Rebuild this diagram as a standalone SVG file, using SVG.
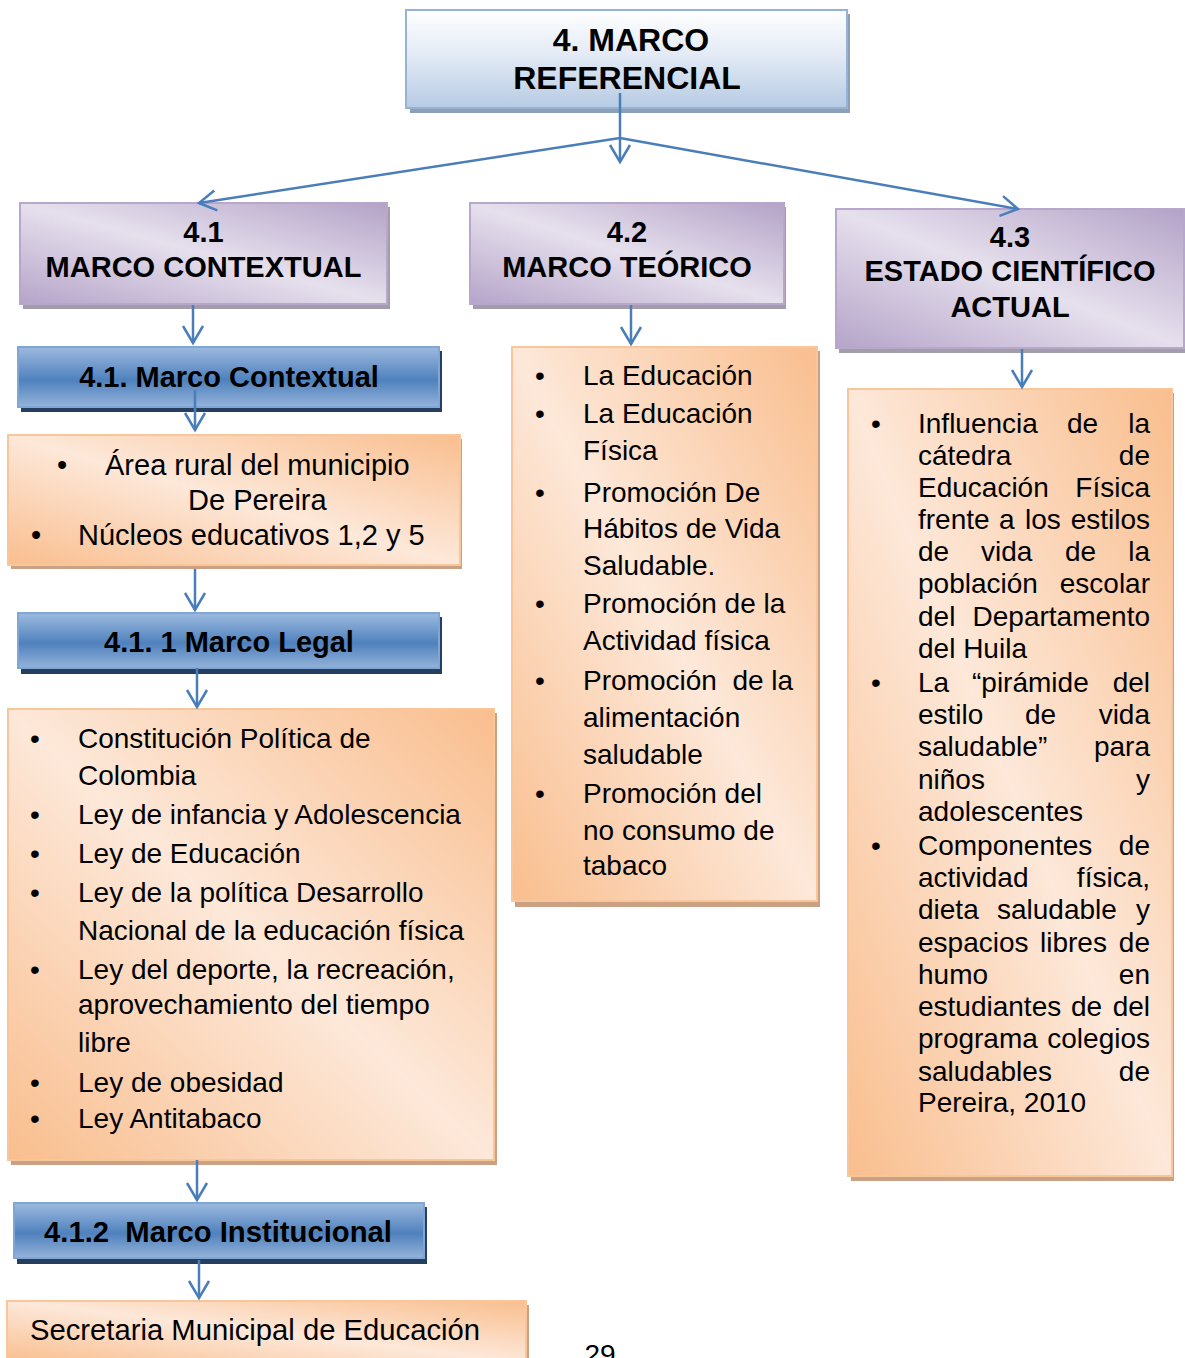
<svg xmlns="http://www.w3.org/2000/svg" width="1185" height="1358" viewBox="0 0 1185 1358">
<defs>
<linearGradient id="gTop" x1="0" y1="0" x2="0" y2="1">
<stop offset="0" stop-color="#ffffff"/>
<stop offset="0.45" stop-color="#e3ebf5"/>
<stop offset="1" stop-color="#b7cbe4"/>
</linearGradient>
<linearGradient id="gPur" x1="0" y1="1" x2="1" y2="0">
<stop offset="0" stop-color="#b5a4c9"/>
<stop offset="0.5" stop-color="#e6e0ed"/>
<stop offset="1" stop-color="#b3a2c7"/>
</linearGradient>
<linearGradient id="gOra" x1="0" y1="1" x2="1" y2="0">
<stop offset="0" stop-color="#f9be8e"/>
<stop offset="0.5" stop-color="#fde8d9"/>
<stop offset="1" stop-color="#f9be8e"/>
</linearGradient>
<linearGradient id="gBlue" x1="0" y1="0" x2="0" y2="1">
<stop offset="0" stop-color="#9dbadf"/>
<stop offset="0.55" stop-color="#4f81bd"/>
<stop offset="1" stop-color="#94b3d9"/>
</linearGradient>
<marker id="arr" markerUnits="userSpaceOnUse" markerWidth="30" markerHeight="30" viewBox="-22 -15 30 30" refX="0" refY="0" orient="auto">
<path d="M -17 -10 L 0 0 L -17 10" fill="none" stroke="#4a7ebb" stroke-width="2.5"/>
</marker>
<style>
.top{fill:url(#gTop);stroke:#95b3d7;stroke-width:2}
.pur{fill:url(#gPur);stroke:#b7a8cb;stroke-width:2}
.ora{fill:url(#gOra);stroke:#f9c69b;stroke-width:2}
.blu{fill:url(#gBlue);stroke:#7fa6d6;stroke-width:2}
.shTop{fill:#8d9fb5}
.shPur{fill:#a29ea9}
.shOra{fill:#caa283}
.shBlu{fill:#263f5e}
.hb{font-family:"Liberation Sans",Arial,sans-serif;font-weight:bold;fill:#000;text-anchor:middle}
.t{font-family:"Liberation Sans",Arial,sans-serif;font-size:28px;fill:#000}
.bul{font-family:"Liberation Sans",Arial,sans-serif;fill:#000;text-anchor:middle}
.end{text-anchor:end}
.con{fill:none;stroke:#4a7ebb;stroke-width:2.5}
</style>
</defs>

<g id="n_marco_referencial">
<rect class="shTop" x="410" y="14" width="440" height="99"/>
<rect class="top" x="406" y="10" width="441" height="98"/>
<text class="hb" font-size="32" x="631" y="51">4. MARCO</text>
<text class="hb" font-size="32" x="627" y="89">REFERENCIAL</text>
</g>

<g id="n_41">
<rect class="shPur" x="23" y="207" width="367" height="102"/>
<rect class="pur" x="20" y="203" width="367" height="101"/>
<text class="hb" font-size="29" x="203.5" y="242">4.1</text>
<text class="hb" font-size="29" x="203.5" y="277">MARCO CONTEXTUAL</text>
</g>

<g id="n_42">
<rect class="shPur" x="473" y="207" width="313" height="102"/>
<rect class="pur" x="470" y="203" width="314" height="101"/>
<text class="hb" font-size="29" x="627" y="242">4.2</text>
<text class="hb" font-size="29" x="627" y="277">MARCO TEÓRICO</text>
</g>

<g id="n_43">
<rect class="shPur" x="839" y="213" width="346" height="140"/>
<rect class="pur" x="836" y="209" width="348" height="139"/>
<text class="hb" font-size="29" x="1010" y="247">4.3</text>
<text class="hb" font-size="29" x="1010" y="281">ESTADO CIENTÍFICO</text>
<text class="hb" font-size="29" x="1010" y="317">ACTUAL</text>
</g>

<g id="n_marco_contextual">
<rect class="shBlu" x="21" y="351" width="421" height="61"/>
<rect class="blu" x="18" y="347" width="421" height="60"/>
<text class="hb" font-size="29" x="229" y="387">4.1. Marco Contextual</text>
</g>

<g id="n_area_rural">
<rect class="shOra" x="11" y="439" width="451" height="130"/>
<rect class="ora" x="8" y="435" width="452" height="130"/>
<text class="bul" font-size="29" x="62" y="475">•</text>
<text class="t" x="105" y="475" style="font-size:29px">Área rural del municipio</text>
<text class="t" x="188" y="510" style="font-size:29px">De Pereira</text>
<text class="bul" font-size="29" x="36" y="545">•</text>
<text class="t" x="78" y="545" style="font-size:29px">Núcleos educativos 1,2 y 5</text>
</g>

<g id="n_marco_legal">
<rect class="shBlu" x="21" y="617" width="421" height="57"/>
<rect class="blu" x="18" y="613" width="421" height="55"/>
<text class="hb" font-size="29" x="229" y="652">4.1. 1 Marco Legal</text>
</g>

<g id="n_lista_legal">
<rect class="shOra" x="11" y="713" width="486" height="452"/>
<rect class="ora" x="8" y="709" width="486" height="451"/>
<g class="bul" font-size="28">
<text x="35" y="748">•</text>
<text x="35" y="824">•</text>
<text x="35" y="863">•</text>
<text x="35" y="902">•</text>
<text x="35" y="979">•</text>
<text x="35" y="1092">•</text>
<text x="35" y="1128">•</text>
</g>
<text class="t" x="78" y="748">Constitución Política de</text>
<text class="t" x="78" y="785">Colombia</text>
<text class="t" x="78" y="824">Ley de infancia y Adolescencia</text>
<text class="t" x="78" y="863">Ley de Educación</text>
<text class="t" x="78" y="902">Ley de la política Desarrollo</text>
<text class="t" x="78" y="940">Nacional de la educación física</text>
<text class="t" x="78" y="979">Ley del deporte, la recreación,</text>
<text class="t" x="78" y="1014">aprovechamiento del tiempo</text>
<text class="t" x="78" y="1052">libre</text>
<text class="t" x="78" y="1092">Ley de obesidad</text>
<text class="t" x="78" y="1128">Ley Antitabaco</text>
</g>

<g id="n_marco_institucional">
<rect class="shBlu" x="17" y="1207" width="410" height="57"/>
<rect class="blu" x="14" y="1203" width="410" height="55"/>
<text class="hb" font-size="29" x="44" y="1242" style="text-anchor:start;font-family:'Liberation Sans Narrow','Liberation Sans',Arial,sans-serif" textLength="348" lengthAdjust="spacingAndGlyphs" xml:space="preserve">4.1.2  Marco Institucional</text>
</g>

<g id="n_secretaria">
<rect class="shOra" x="10" y="1305" width="519" height="60"/>
<rect class="ora" x="7" y="1301" width="519" height="62"/>
<text class="t" x="30" y="1340" style="font-size:29px;font-family:'Liberation Sans Narrow','Liberation Sans',Arial,sans-serif" textLength="450" lengthAdjust="spacingAndGlyphs">Secretaria Municipal de Educación</text>
</g>

<g id="n_lista_teorico">
<rect class="shOra" x="515" y="351" width="305" height="556"/>
<rect class="ora" x="512" y="347" width="305" height="554"/>
<g class="bul" font-size="28">
<text x="540" y="385">•</text>
<text x="540" y="423">•</text>
<text x="540" y="502">•</text>
<text x="540" y="613">•</text>
<text x="540" y="690">•</text>
<text x="540" y="803">•</text>
</g>
<text class="t" x="583" y="385">La Educación</text>
<text class="t" x="583" y="423">La Educación</text>
<text class="t" x="583" y="460">Física</text>
<text class="t" x="583" y="502">Promoción De</text>
<text class="t" x="583" y="538">Hábitos de Vida</text>
<text class="t" x="583" y="575">Saludable.</text>
<text class="t" x="583" y="613">Promoción de la</text>
<text class="t" x="583" y="650">Actividad física</text>
<text class="t" x="583" y="690" xml:space="preserve">Promoción  de la</text>
<text class="t" x="583" y="727">alimentación</text>
<text class="t" x="583" y="764">saludable</text>
<text class="t" x="583" y="803">Promoción del</text>
<text class="t" x="583" y="840">no consumo de</text>
<text class="t" x="583" y="875">tabaco</text>
</g>

<g id="n_lista_estado">
<rect class="shOra" x="851" y="393" width="323" height="788"/>
<rect class="ora" x="848" y="389" width="324" height="787"/>
<g class="bul" font-size="28">
<text x="876" y="433">•</text>
<text x="876" y="692">•</text>
<text x="876" y="855">•</text>
</g>
<g class="t">
<text x="918" y="433">Influencia</text><text x="1067" y="433">de</text><text class="end" x="1150" y="433">la</text>
<text x="918" y="465">cátedra</text><text class="end" x="1150" y="465">de</text>
<text x="918" y="497">Educación</text><text class="end" x="1150" y="497">Física</text>
<text x="918" y="529">frente</text><text x="999" y="529">a</text><text x="1025" y="529">los</text><text class="end" x="1150" y="529">estilos</text>
<text x="918" y="561">de</text><text x="981" y="561">vida</text><text x="1065" y="561">de</text><text class="end" x="1150" y="561">la</text>
<text x="918" y="593">población</text><text class="end" x="1150" y="593">escolar</text>
<text x="918" y="626">del</text><text class="end" x="1150" y="626">Departamento</text>
<text x="918" y="658">del Huila</text>
<text x="918" y="692">La</text><text x="972" y="692">“pirámide</text><text class="end" x="1150" y="692">del</text>
<text x="918" y="724">estilo</text><text x="1025" y="724">de</text><text class="end" x="1150" y="724">vida</text>
<text x="918" y="756">saludable”</text><text class="end" x="1150" y="756">para</text>
<text x="918" y="789">niños</text><text class="end" x="1150" y="789">y</text>
<text x="918" y="821">adolescentes</text>
<text x="918" y="855">Componentes</text><text class="end" x="1150" y="855">de</text>
<text x="918" y="887">actividad</text><text class="end" x="1150" y="887">física,</text>
<text x="918" y="919">dieta</text><text x="997" y="919">saludable</text><text class="end" x="1150" y="919">y</text>
<text x="918" y="952">espacios</text><text x="1040" y="952">libres</text><text class="end" x="1150" y="952">de</text>
<text x="918" y="984">humo</text><text class="end" x="1150" y="984">en</text>
<text x="918" y="1016">estudiantes</text><text x="1071" y="1016">de</text><text class="end" x="1150" y="1016">del</text>
<text x="918" y="1048">programa</text><text class="end" x="1150" y="1048">colegios</text>
<text x="918" y="1081">saludables</text><text class="end" x="1150" y="1081">de</text>
<text x="918" y="1112">Pereira, 2010</text>
</g>
</g>

<g id="connectors">
<path class="con" d="M620 93 L620 138"/>
<path class="con" d="M620 138 L620 162" marker-end="url(#arr)"/>
<path class="con" d="M620 138 L199 203" marker-end="url(#arr)"/>
<path class="con" d="M620 138 L1018 209" marker-end="url(#arr)"/>
<path class="con" d="M193 305 L193 343" marker-end="url(#arr)"/>
<path class="con" d="M195 390 L195 430" marker-end="url(#arr)"/>
<path class="con" d="M195 569 L195 610" marker-end="url(#arr)"/>
<path class="con" d="M197 668 L197 707" marker-end="url(#arr)"/>
<path class="con" d="M197 1160 L197 1200" marker-end="url(#arr)"/>
<path class="con" d="M199 1260 L199 1298" marker-end="url(#arr)"/>
<path class="con" d="M631 305 L631 344" marker-end="url(#arr)"/>
<path class="con" d="M1022 349 L1022 387" marker-end="url(#arr)"/>
</g>

<text x="600" y="1364" style="font-family:'Liberation Sans',Arial,sans-serif;font-size:28px;text-anchor:middle;fill:#000">29</text>
</svg>
